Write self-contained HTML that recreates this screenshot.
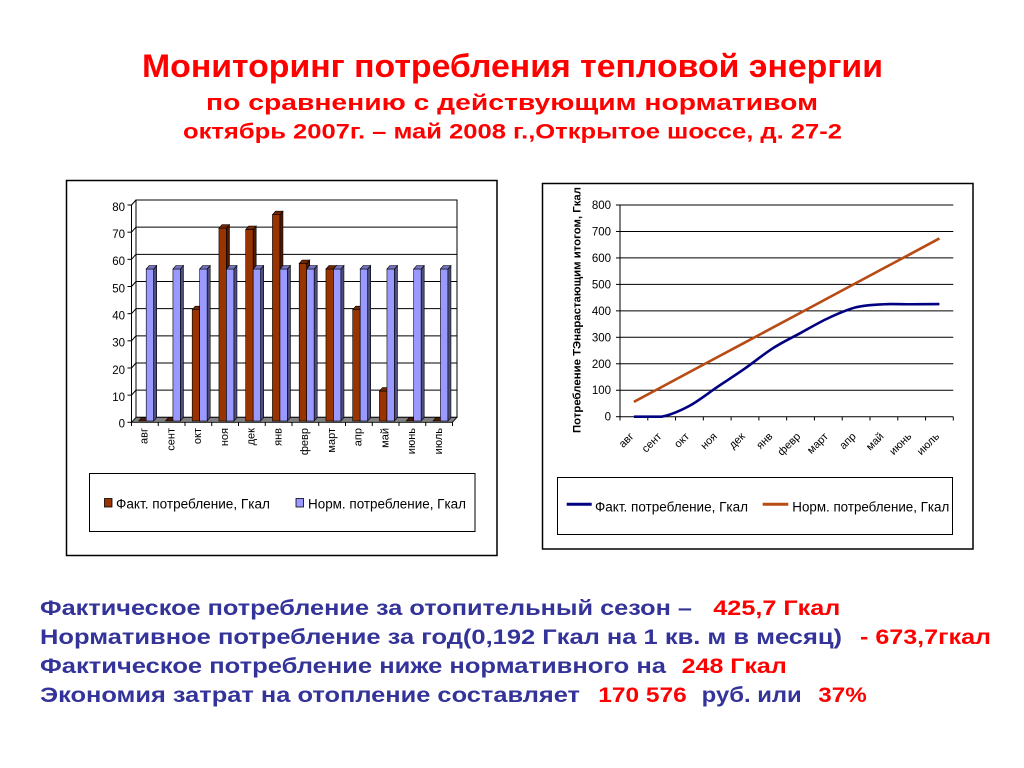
<!DOCTYPE html>
<html><head><meta charset="utf-8"><style>
html,body{margin:0;padding:0;background:#fff;}
svg{display:block;font-family:"Liberation Sans",Arial,sans-serif;}
</style></head><body>
<svg width="1024" height="768" viewBox="0 0 1024 768" xmlns="http://www.w3.org/2000/svg">
<defs>
<g id="pb">
<rect x="0" y="269" width="7.5" height="152" fill="#9999ff" stroke="#000" stroke-width="0.6"/>
<polygon points="7.5,269 10.5,265.5 10.5,417.5 7.5,421" fill="#4d4d80" stroke="#000" stroke-width="0.6"/>
<polygon points="0,269 3,265.5 10.5,265.5 7.5,269" fill="#7373bf" stroke="#000" stroke-width="0.6"/>
</g>
<g id="bz">
<polygon points="0,421 3,417.5 10.5,417.5 7.5,421" fill="#4d1a00" stroke="#000" stroke-width="0.6"/>
</g>
</defs>

<!-- Titles -->
<g fill="#ff0000" font-weight="bold">
<text x="142" y="77" font-size="32.5" textLength="741" lengthAdjust="spacingAndGlyphs">Мониторинг потребления тепловой энергии</text>
<text x="206" y="110" font-size="22.5" textLength="612" lengthAdjust="spacingAndGlyphs">по сравнению с действующим нормативом</text>
<text x="183" y="138.3" font-size="21" textLength="659" lengthAdjust="spacingAndGlyphs">октябрь 2007г. – май 2008 г.,Открытое шоссе, д. 27-2</text>
</g>

<!-- LEFT CHART -->
<rect x="66.5" y="180.5" width="430.5" height="375" fill="#fff" stroke="#000" stroke-width="1.5"/>
<!-- back wall -->
<rect x="136" y="200" width="321" height="217.3" fill="#fff" stroke="#000" stroke-width="1"/>
<g stroke="#000" stroke-width="1">
<line x1="136" y1="227.18" x2="457" y2="227.18"/>
<line x1="136" y1="254.34" x2="457" y2="254.34"/>
<line x1="136" y1="281.5" x2="457" y2="281.5"/>
<line x1="136" y1="308.66" x2="457" y2="308.66"/>
<line x1="136" y1="335.82" x2="457" y2="335.82"/>
<line x1="136" y1="362.98" x2="457" y2="362.98"/>
<line x1="136" y1="390.14" x2="457" y2="390.14"/>
<!-- side wall grid -->
<line x1="131.5" y1="205" x2="136" y2="200"/>
<line x1="131.5" y1="232.18" x2="136" y2="227.18"/>
<line x1="131.5" y1="259.34" x2="136" y2="254.34"/>
<line x1="131.5" y1="286.5" x2="136" y2="281.5"/>
<line x1="131.5" y1="313.66" x2="136" y2="308.66"/>
<line x1="131.5" y1="340.82" x2="136" y2="335.82"/>
<line x1="131.5" y1="367.98" x2="136" y2="362.98"/>
<line x1="131.5" y1="395.14" x2="136" y2="390.14"/>
<!-- front axis -->
<line x1="131.5" y1="205" x2="131.5" y2="422.3"/>
<line x1="127.5" y1="205" x2="131.5" y2="205"/>
<line x1="127.5" y1="232.18" x2="131.5" y2="232.18"/>
<line x1="127.5" y1="259.34" x2="131.5" y2="259.34"/>
<line x1="127.5" y1="286.5" x2="131.5" y2="286.5"/>
<line x1="127.5" y1="313.66" x2="131.5" y2="313.66"/>
<line x1="127.5" y1="340.82" x2="131.5" y2="340.82"/>
<line x1="127.5" y1="367.98" x2="131.5" y2="367.98"/>
<line x1="127.5" y1="395.14" x2="131.5" y2="395.14"/>
<line x1="127.5" y1="422.3" x2="131.5" y2="422.3"/>
</g>
<!-- floor -->
<polygon points="131.5,422.3 136,417.3 457,417.3 452.5,422.3" fill="#808080" stroke="#000" stroke-width="0.8"/>
<g stroke="#000" stroke-width="1">
<line x1="131.5" y1="422.3" x2="131.5" y2="426"/>
<line x1="158.25" y1="422.3" x2="158.25" y2="426"/>
<line x1="185" y1="422.3" x2="185" y2="426"/>
<line x1="211.75" y1="422.3" x2="211.75" y2="426"/>
<line x1="238.5" y1="422.3" x2="238.5" y2="426"/>
<line x1="265.25" y1="422.3" x2="265.25" y2="426"/>
<line x1="292" y1="422.3" x2="292" y2="426"/>
<line x1="318.75" y1="422.3" x2="318.75" y2="426"/>
<line x1="345.5" y1="422.3" x2="345.5" y2="426"/>
<line x1="372.25" y1="422.3" x2="372.25" y2="426"/>
<line x1="399" y1="422.3" x2="399" y2="426"/>
<line x1="425.75" y1="422.3" x2="425.75" y2="426"/>
<line x1="452.5" y1="422.3" x2="452.5" y2="426"/>
</g>
<!-- bars -->
<use href="#bz" x="138.7"/><use href="#pb" x="146.2"/>
<use href="#bz" x="165.45"/><use href="#pb" x="172.95"/>
<g transform="translate(192.2,0)">
<rect x="0" y="309.7" width="7.5" height="111.3" fill="#993300" stroke="#000" stroke-width="0.6"/>
<polygon points="7.5,309.7 10.5,306.2 10.5,417.5 7.5,421" fill="#4d1a00" stroke="#000" stroke-width="0.6"/>
<polygon points="0,309.7 3,306.2 10.5,306.2 7.5,309.7" fill="#732600" stroke="#000" stroke-width="0.6"/>
</g><use href="#pb" x="199.7"/>
<g transform="translate(218.95,0)">
<rect x="0" y="228.2" width="7.5" height="192.8" fill="#993300" stroke="#000" stroke-width="0.6"/>
<polygon points="7.5,228.2 10.5,224.7 10.5,417.5 7.5,421" fill="#4d1a00" stroke="#000" stroke-width="0.6"/>
<polygon points="0,228.2 3,224.7 10.5,224.7 7.5,228.2" fill="#732600" stroke="#000" stroke-width="0.6"/>
</g><use href="#pb" x="226.45"/>
<g transform="translate(245.7,0)">
<rect x="0" y="229.6" width="7.5" height="191.4" fill="#993300" stroke="#000" stroke-width="0.6"/>
<polygon points="7.5,229.6 10.5,226.1 10.5,417.5 7.5,421" fill="#4d1a00" stroke="#000" stroke-width="0.6"/>
<polygon points="0,229.6 3,226.1 10.5,226.1 7.5,229.6" fill="#732600" stroke="#000" stroke-width="0.6"/>
</g><use href="#pb" x="253.2"/>
<g transform="translate(272.45,0)">
<rect x="0" y="214.7" width="7.5" height="206.3" fill="#993300" stroke="#000" stroke-width="0.6"/>
<polygon points="7.5,214.7 10.5,211.2 10.5,417.5 7.5,421" fill="#4d1a00" stroke="#000" stroke-width="0.6"/>
<polygon points="0,214.7 3,211.2 10.5,211.2 7.5,214.7" fill="#732600" stroke="#000" stroke-width="0.6"/>
</g><use href="#pb" x="279.95"/>
<g transform="translate(299.2,0)">
<rect x="0" y="263.5" width="7.5" height="157.5" fill="#993300" stroke="#000" stroke-width="0.6"/>
<polygon points="7.5,263.5 10.5,260 10.5,417.5 7.5,421" fill="#4d1a00" stroke="#000" stroke-width="0.6"/>
<polygon points="0,263.5 3,260 10.5,260 7.5,263.5" fill="#732600" stroke="#000" stroke-width="0.6"/>
</g><use href="#pb" x="306.7"/>
<g transform="translate(325.95,0)">
<rect x="0" y="269" width="7.5" height="152" fill="#993300" stroke="#000" stroke-width="0.6"/>
<polygon points="7.5,269 10.5,265.5 10.5,417.5 7.5,421" fill="#4d1a00" stroke="#000" stroke-width="0.6"/>
<polygon points="0,269 3,265.5 10.5,265.5 7.5,269" fill="#732600" stroke="#000" stroke-width="0.6"/>
</g><use href="#pb" x="333.45"/>
<g transform="translate(352.7,0)">
<rect x="0" y="309.7" width="7.5" height="111.3" fill="#993300" stroke="#000" stroke-width="0.6"/>
<polygon points="7.5,309.7 10.5,306.2 10.5,417.5 7.5,421" fill="#4d1a00" stroke="#000" stroke-width="0.6"/>
<polygon points="0,309.7 3,306.2 10.5,306.2 7.5,309.7" fill="#732600" stroke="#000" stroke-width="0.6"/>
</g><use href="#pb" x="360.2"/>
<g transform="translate(379.45,0)">
<rect x="0" y="391.1" width="7.5" height="29.9" fill="#993300" stroke="#000" stroke-width="0.6"/>
<polygon points="7.5,391.1 10.5,387.6 10.5,417.5 7.5,421" fill="#4d1a00" stroke="#000" stroke-width="0.6"/>
<polygon points="0,391.1 3,387.6 10.5,387.6 7.5,391.1" fill="#732600" stroke="#000" stroke-width="0.6"/>
</g><use href="#pb" x="386.95"/>
<use href="#bz" x="406.2"/><use href="#pb" x="413.7"/>
<use href="#bz" x="432.95"/><use href="#pb" x="440.45"/>

<!-- left y labels -->
<g font-size="11.5" text-anchor="end" fill="#000">
<text x="125" y="211">80</text>
<text x="125" y="238">70</text>
<text x="125" y="265.2">60</text>
<text x="125" y="292.3">50</text>
<text x="125" y="319.5">40</text>
<text x="125" y="346.6">30</text>
<text x="125" y="373.8">20</text>
<text x="125" y="400.9">10</text>
<text x="125" y="427.5">0</text>
</g>
<!-- left x labels -->
<g font-size="11" text-anchor="end" fill="#000">
<text transform="translate(147.5,428) rotate(-90)">авг</text>
<text transform="translate(174.25,428) rotate(-90)">сент</text>
<text transform="translate(201,428) rotate(-90)">окт</text>
<text transform="translate(227.75,428) rotate(-90)">ноя</text>
<text transform="translate(254.5,428) rotate(-90)">дек</text>
<text transform="translate(281.25,428) rotate(-90)">янв</text>
<text transform="translate(308,428) rotate(-90)">февр</text>
<text transform="translate(334.75,428) rotate(-90)">март</text>
<text transform="translate(361.5,428) rotate(-90)">апр</text>
<text transform="translate(388.25,428) rotate(-90)">май</text>
<text transform="translate(415,428) rotate(-90)">июнь</text>
<text transform="translate(441.75,428) rotate(-90)">июль</text>
</g>
<!-- left legend -->
<rect x="89.5" y="473.5" width="385.5" height="58" fill="#fff" stroke="#000" stroke-width="1"/>
<rect x="104.5" y="498.5" width="7.5" height="8.5" fill="#993300" stroke="#000" stroke-width="0.8"/>
<text x="116" y="508.3" font-size="13.5" textLength="154" lengthAdjust="spacingAndGlyphs">Факт. потребление, Гкал</text>
<rect x="296" y="498.5" width="7.5" height="8.5" fill="#9999ff" stroke="#000" stroke-width="0.8"/>
<text x="308" y="508.3" font-size="13.5" textLength="158" lengthAdjust="spacingAndGlyphs">Норм. потребление, Гкал</text>

<!-- RIGHT CHART -->
<rect x="542.5" y="183.5" width="430.5" height="365.5" fill="#fff" stroke="#000" stroke-width="1.5"/>
<g stroke="#000" stroke-width="1">
<line x1="620" y1="205" x2="953.3" y2="205"/>
<line x1="620" y1="231.46" x2="953.3" y2="231.46"/>
<line x1="620" y1="257.93" x2="953.3" y2="257.93"/>
<line x1="620" y1="284.39" x2="953.3" y2="284.39"/>
<line x1="620" y1="310.85" x2="953.3" y2="310.85"/>
<line x1="620" y1="337.31" x2="953.3" y2="337.31"/>
<line x1="620" y1="363.78" x2="953.3" y2="363.78"/>
<line x1="620" y1="390.24" x2="953.3" y2="390.24"/>
<line x1="620" y1="416.7" x2="953.3" y2="416.7"/>
<line x1="620" y1="205" x2="620" y2="416.7"/>
<line x1="616" y1="205" x2="620" y2="205"/>
<line x1="616" y1="231.46" x2="620" y2="231.46"/>
<line x1="616" y1="257.93" x2="620" y2="257.93"/>
<line x1="616" y1="284.39" x2="620" y2="284.39"/>
<line x1="616" y1="310.85" x2="620" y2="310.85"/>
<line x1="616" y1="337.31" x2="620" y2="337.31"/>
<line x1="616" y1="363.78" x2="620" y2="363.78"/>
<line x1="616" y1="390.24" x2="620" y2="390.24"/>
<line x1="616" y1="416.7" x2="620" y2="416.7"/>
<line x1="620" y1="416.7" x2="620" y2="420.5"/>
<line x1="647.78" y1="416.7" x2="647.78" y2="420.5"/>
<line x1="675.56" y1="416.7" x2="675.56" y2="420.5"/>
<line x1="703.33" y1="416.7" x2="703.33" y2="420.5"/>
<line x1="731.11" y1="416.7" x2="731.11" y2="420.5"/>
<line x1="758.89" y1="416.7" x2="758.89" y2="420.5"/>
<line x1="786.67" y1="416.7" x2="786.67" y2="420.5"/>
<line x1="814.44" y1="416.7" x2="814.44" y2="420.5"/>
<line x1="842.22" y1="416.7" x2="842.22" y2="420.5"/>
<line x1="870" y1="416.7" x2="870" y2="420.5"/>
<line x1="897.78" y1="416.7" x2="897.78" y2="420.5"/>
<line x1="925.56" y1="416.7" x2="925.56" y2="420.5"/>
<line x1="953.3" y1="416.7" x2="953.3" y2="420.5"/>
</g>
<!-- series -->
<polyline points="633.9,401.85 661.7,386.99 689.4,372.14 717.2,357.27 745,342.43 772.8,327.58 800.6,312.71 828.3,297.87 856.1,283 883.9,268.15 911.7,253.31 939.4,238.44" fill="none" stroke="#b84a14" stroke-width="2.6" stroke-linejoin="round"/>
<path d="M633.9,416.7 C638.5,416.7 652.45,416.7 661.7,416.7 C670.95,414.89 680.15,410.79 689.4,405.85 C698.65,400.91 707.95,393.3 717.2,387.06 C726.45,380.82 735.75,374.87 745,368.41 C754.25,361.95 763.55,354.21 772.8,348.3 C782.05,342.39 791.35,337.98 800.6,332.95 C809.85,327.92 819.05,322.41 828.3,318.13 C837.55,313.85 846.85,309.6 856.1,307.29 C865.35,304.98 874.65,304.76 883.9,304.25 C893.15,303.74 902.45,304.28 911.7,304.25 C920.95,304.22 934.8,304.09 939.4,304.06" fill="none" stroke="#000080" stroke-width="2.6" stroke-linejoin="round"/>
<!-- right y labels -->
<g font-size="11.5" text-anchor="end" fill="#000">
<text x="611" y="209">800</text>
<text x="611" y="235.5">700</text>
<text x="611" y="262">600</text>
<text x="611" y="288.4">500</text>
<text x="611" y="314.9">400</text>
<text x="611" y="341.3">300</text>
<text x="611" y="367.8">200</text>
<text x="611" y="394.2">100</text>
<text x="611" y="420.7">0</text>
</g>
<text transform="translate(580.5,310) rotate(-90)" font-size="11" font-weight="bold" text-anchor="middle" textLength="246" lengthAdjust="spacingAndGlyphs">Потребление ТЭнарастающим итогом, Гкал</text>
<!-- right x labels -->
<g font-size="11" text-anchor="end" fill="#000">
<text transform="translate(634.4,437) rotate(-45)">авг</text>
<text transform="translate(662.2,437) rotate(-45)">сент</text>
<text transform="translate(689.9,437) rotate(-45)">окт</text>
<text transform="translate(717.7,437) rotate(-45)">ноя</text>
<text transform="translate(745.5,437) rotate(-45)">дек</text>
<text transform="translate(773.3,437) rotate(-45)">янв</text>
<text transform="translate(801.1,437) rotate(-45)">февр</text>
<text transform="translate(828.8,437) rotate(-45)">март</text>
<text transform="translate(856.6,437) rotate(-45)">апр</text>
<text transform="translate(884.4,437) rotate(-45)">май</text>
<text transform="translate(912.2,437) rotate(-45)">июнь</text>
<text transform="translate(939.9,437) rotate(-45)">июль</text>
</g>
<!-- right legend -->
<rect x="557.5" y="477.5" width="395" height="57" fill="#fff" stroke="#000" stroke-width="1"/>
<line x1="566.7" y1="504.3" x2="591.7" y2="504.3" stroke="#000080" stroke-width="3"/>
<text x="595" y="511.5" font-size="13.5" textLength="153" lengthAdjust="spacingAndGlyphs">Факт. потребление, Гкал</text>
<line x1="762.7" y1="504.3" x2="788.3" y2="504.3" stroke="#b84a14" stroke-width="3"/>
<text x="792.3" y="511.5" font-size="13.5" textLength="157" lengthAdjust="spacingAndGlyphs">Норм. потребление, Гкал</text>

<!-- Body text -->
<g font-size="21" font-weight="bold">
<text x="40" y="615" fill="#333399" textLength="652" lengthAdjust="spacingAndGlyphs">Фактическое потребление за отопительный сезон –</text>
<text x="713.3" y="615" fill="#ff0000" textLength="127" lengthAdjust="spacingAndGlyphs">425,7 Гкал</text>
<text x="40" y="644" fill="#333399" textLength="802" lengthAdjust="spacingAndGlyphs">Нормативное потребление за год(0,192 Гкал на 1 кв. м в месяц)</text>
<text x="860" y="644" fill="#ff0000" textLength="131" lengthAdjust="spacingAndGlyphs">- 673,7гкал</text>
<text x="40" y="673" fill="#333399" textLength="626" lengthAdjust="spacingAndGlyphs">Фактическое потребление ниже нормативного на</text>
<text x="681.7" y="673" fill="#ff0000" textLength="105" lengthAdjust="spacingAndGlyphs">248 Гкал</text>
<text x="40" y="702" fill="#333399" textLength="540" lengthAdjust="spacingAndGlyphs">Экономия затрат на отопление составляет</text>
<text x="598.3" y="702" fill="#ff0000" textLength="88.4" lengthAdjust="spacingAndGlyphs">170 576</text>
<text x="701.7" y="702" fill="#333399" textLength="100" lengthAdjust="spacingAndGlyphs">руб. или</text>
<text x="818.3" y="702" fill="#ff0000" textLength="48.4" lengthAdjust="spacingAndGlyphs">37%</text>
</g>
</svg>
</body></html>
